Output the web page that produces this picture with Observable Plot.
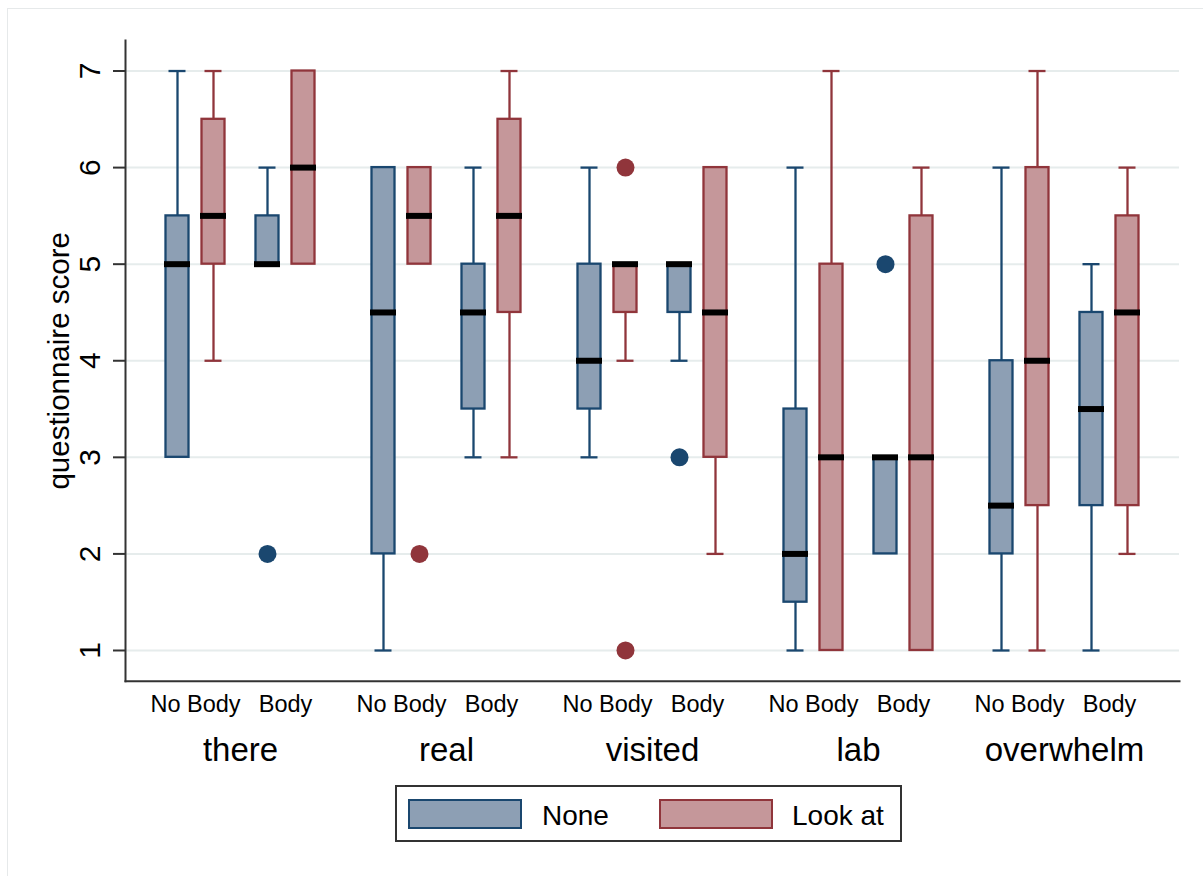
<!DOCTYPE html>
<html>
<head>
<meta charset="utf-8">
<script src="https://cdn.jsdelivr.net/npm/d3@7"></script>
<script src="https://cdn.jsdelivr.net/npm/@observablehq/plot@0.6"></script>
<style>
  html, body { margin: 0; padding: 0; background: #fff; }
  #wrap { position: relative; width: 1203px; height: 876px; overflow: hidden; font-family: "Liberation Sans", Arial, Helvetica, sans-serif; }
  #outer { position: absolute; left: 7px; top: 8px; width: 1300px; height: 1000px; border: 1px solid #e6e9ea; box-sizing: border-box; }
  #chart { position: absolute; left: 0; top: 0; }
  #legend { position: absolute; left: 395px; top: 785px; width: 507px; height: 57px; border: 2px solid #333; box-sizing: border-box; background: #fff; }
  .sw { position: absolute; top: 12px; width: 114px; height: 30px; box-sizing: border-box; border: 2px solid; }
  .lab { position: absolute; top: 14px; height: 30px; line-height: 30px; font-size: 28px; color: #000; white-space: nowrap; }
</style>
</head>
<body>
<div id="wrap">
  <div id="outer"></div>
  <div id="chart"></div>
  <div id="legend"></div>
</div>
<script>
// ---------- data ----------
const groups = ["there", "real", "visited", "lab", "overwhelm"];
const bodies = ["No Body", "Body"];
const conditions = ["None", "Look at"];
const yTicks = [1, 2, 3, 4, 5, 6, 7];

// 20 boxes, ordered group -> body -> condition
const loWhisker = [3, 4, 5, 5,   1, 5, 3, 3,     3, 4, 4, 2,     1, 1, 2, 1,     1, 1, 1, 2];
const q1        = [3, 5, 5, 5,   2, 5, 3.5, 4.5, 3.5, 4.5, 4.5, 3, 1.5, 1, 2, 1,   2, 2.5, 2.5, 2.5];
const median    = [5, 5.5, 5, 6, 4.5, 5.5, 4.5, 5.5, 4, 5, 5, 4.5, 2, 3, 3, 3,     2.5, 4, 3.5, 4.5];
const q3        = [5.5, 6.5, 5.5, 7, 6, 6, 5, 6.5, 5, 5, 5, 6,   3.5, 5, 3, 5.5,   4, 6, 4.5, 5.5];
const hiWhisker = [7, 7, 6, 7,   6, 6, 6, 7,     6, 5, 5, 6,     6, 7, 3, 6,     6, 7, 5, 6];

// outside values
const outGroup = ["there", "real", "visited", "visited", "visited", "lab"];
const outBody  = ["Body", "No Body", "No Body", "No Body", "Body", "Body"];
const outCond  = ["None", "Look at", "Look at", "Look at", "None", "None"];
const outValue = [2, 2, 6, 1, 3, 5];

// ---------- build tables ----------
const boxes = q1.map((_, i) => ({
  group: groups[Math.floor(i / 4)],
  body: bodies[Math.floor(i / 2) % 2],
  cond: conditions[i % 2],
  lo: loWhisker[i], q1: q1[i], med: median[i], q3: q3[i], hi: hiWhisker[i]
}));
const outliers = outValue.map((v, i) => ({group: outGroup[i], body: outBody[i], cond: outCond[i], value: v}));
const subLabels = groups.flatMap(g => bodies.map(b => ({group: g, body: b})));

// ---------- styling / layout ----------
const W = 1203, H = 780, mL = 125, mR = 24, mT = 40, mB = 99.3;
const padOuter = 0.046;
const bw = (W - mL - mR) / (groups.length + 2 * padOuter);
const condStyle = {
  "None":    {stroke: "#1a476f", fill: "#8d9fb4", dot: "#1a476f"},
  "Look at": {stroke: "#90353b", fill: "#c5979a", dot: "#90353b"}
};
const slot = {"No Body|None": -63, "No Body|Look at": -27, "Body|None": 27, "Body|Look at": 63};
const subDx = {"No Body": -45, "Body": 45};
const boxW = 24, capW = 18, medW = 27;
const lineW = 2.3;
const gridColor = "#e6ecec", axisColor = "#333";
const mid = {textAnchor: "middle", lineAnchor: "middle"};

const marks = [
  Plot.ruleY(yTicks, {y: d => d, stroke: gridColor, strokeWidth: 2}),
  Plot.axisY({ticks: yTicks, tickSize: 12, tickFormat: () => "", label: null, stroke: axisColor, strokeWidth: 2}),
  Plot.text(yTicks, {y: d => d, text: d => String(d), frameAnchor: "left", dx: -35, rotate: -90, fontSize: 30, fill: "#000", ...mid}),
  Plot.text(["questionnaire score"], {text: d => d, frameAnchor: "left", dx: -66, rotate: -90, fontSize: 29.5, fill: "#000", ...mid})
];

for (const b of bodies) {
  for (const c of conditions) {
    const dx = slot[b + "|" + c];
    const st = condStyle[c];
    const rows = boxes.filter(d => d.body === b && d.cond === c);
    const up = rows.filter(d => d.hi > d.q3);
    const dn = rows.filter(d => d.lo < d.q1);
    const outs = outliers.filter(d => d.body === b && d.cond === c);
    marks.push(
      Plot.ruleX(up, {x: "group", y1: "q3", y2: "hi", dx, stroke: st.stroke, strokeWidth: lineW}),
      Plot.ruleX(dn, {x: "group", y1: "lo", y2: "q1", dx, stroke: st.stroke, strokeWidth: lineW}),
      Plot.tickY(up, {x: "group", y: "hi", dx, stroke: st.stroke, strokeWidth: lineW, insetLeft: (bw - capW) / 2, insetRight: (bw - capW) / 2}),
      Plot.tickY(dn, {x: "group", y: "lo", dx, stroke: st.stroke, strokeWidth: lineW, insetLeft: (bw - capW) / 2, insetRight: (bw - capW) / 2}),
      Plot.barY(rows, {x: "group", y1: "q1", y2: "q3", dx, fill: st.fill, stroke: st.stroke, strokeWidth: lineW, insetLeft: (bw - boxW) / 2, insetRight: (bw - boxW) / 2}),
      Plot.tickY(rows, {x: "group", y: "med", dx, stroke: "#000", strokeWidth: 6, insetLeft: (bw - medW) / 2, insetRight: (bw - medW) / 2}),
      Plot.dot(outs, {x: "group", y: "value", dx, r: 9, fill: st.dot, stroke: "none"})
    );
  }
}

for (const b of bodies) {
  marks.push(Plot.text(subLabels.filter(d => d.body === b), {x: "group", text: "body", frameAnchor: "bottom", dx: subDx[b], dy: 23, fontSize: 23.5, fill: "#000", ...mid}));
}
marks.push(
  Plot.text(groups, {x: d => d, text: d => d, frameAnchor: "bottom", dy: 69, fontSize: 33, fill: "#000", ...mid}),
  Plot.frame({anchor: "left", stroke: axisColor, strokeWidth: 2}),
  Plot.frame({anchor: "bottom", stroke: axisColor, strokeWidth: 2})
);

const chart = Plot.plot({
  width: W, height: H,
  marginLeft: mL, marginRight: mR, marginTop: mT, marginBottom: mB,
  style: {fontFamily: '"Liberation Sans", Arial, Helvetica, sans-serif', background: "transparent", overflow: "visible"},
  x: {type: "band", domain: groups, paddingInner: 0, paddingOuter: padOuter, axis: null},
  y: {domain: [0.682, 7.316]},
  marks
});
document.getElementById("chart").appendChild(chart);

// ---------- legend ----------
const legend = document.getElementById("legend");
const legendPos = [{sw: 11, txt: 145}, {sw: 262, txt: 395}];
conditions.forEach((c, i) => {
  const sw = document.createElement("div");
  sw.className = "sw";
  sw.style.left = legendPos[i].sw + "px";
  sw.style.background = condStyle[c].fill;
  sw.style.borderColor = condStyle[c].stroke;
  legend.appendChild(sw);
  const t = document.createElement("span");
  t.className = "lab";
  t.style.left = legendPos[i].txt + "px";
  t.textContent = c;
  legend.appendChild(t);
});
</script>
</body>
</html>
